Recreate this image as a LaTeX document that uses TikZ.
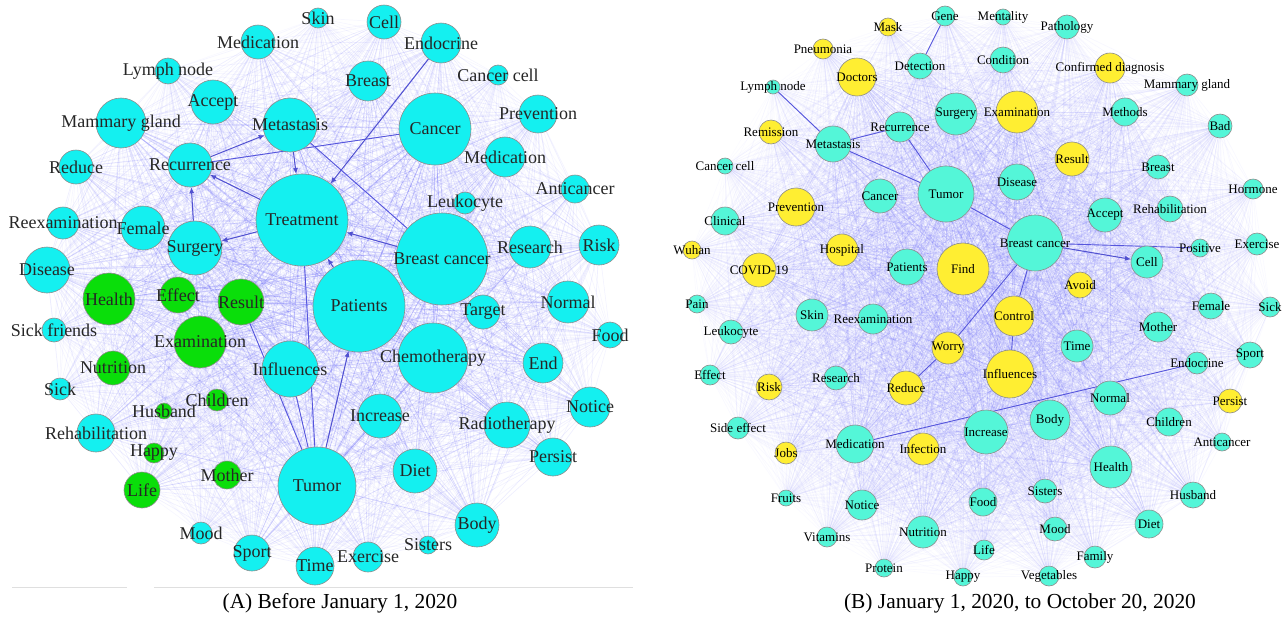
\documentclass[tikz,border=0pt]{standalone}
\usepackage{fontspec}
\setmainfont{Liberation Serif}
\usetikzlibrary{
	arrows.meta,
	backgrounds
}

\definecolor{cyanA}{RGB}{20,240,240}
\definecolor{greenA}{RGB}{10,222,10}
\definecolor{tealB}{RGB}{84,246,216}
\definecolor{yellowB}{RGB}{255,238,50}
\definecolor{linkC}{RGB}{95,95,245}
\definecolor{rimC}{RGB}{140,140,140}

% keywords: name/x/y/radius/fill/label (pixel units)
\newcommand{\vertsA}{%
	aSkin/318/18/10/cyanA/Skin,
	aCell/384/22/17/cyanA/Cell,
	aMedicT/258/42/17/cyanA/Medication,
	aEndo/441/43/20/cyanA/Endocrine,
	aLymph/168/71/13/cyanA/Lymph node,
	aCcell/498/75/10/cyanA/Cancer cell,
	aBreast/368/81/20/cyanA/Breast,
	aAccept/213/102/22/cyanA/Accept,
	aPrev/538/114/19/cyanA/Prevention,
	aMamm/121/123/25/cyanA/Mammary gland,
	aMeta/290/125/27/cyanA/Metastasis,
	aCancer/435/129/36/cyanA/Cancer,
	aMedicR/505/157/20/cyanA/Medication,
	aReduce/76/167/17/cyanA/Reduce,
	aRecur/190/165/22/cyanA/Recurrence,
	aAnti/575/189/14/cyanA/Anticancer,
	aLeuko/465/203/11/cyanA/Leukocyte,
	aTreat/302/220/46/cyanA/Treatment,
	aReexam/63/223/16/cyanA/Reexamination,
	aFemale/143/228/22/cyanA/Female,
	aRisk/599/245/20/cyanA/Risk,
	aResearch/530/247/21/cyanA/Research,
	aSurgery/195/248/27/cyanA/Surgery,
	aBC/442/259/46/cyanA/Breast cancer,
	aDisease/47/270/23/cyanA/Disease,
	aEffect/178/295/18/greenA/Effect,
	aHealth/109/299/26/greenA/Health,
	aResult/241/302/23/greenA/Result,
	aNormal/568/302/21/cyanA/Normal,
	aPatients/359/306/46/cyanA/Patients,
	aTarget/483/312/17/cyanA/Target,
	aSickF/54/330/12/cyanA/Sick friends,
	aFood/610/335/13/cyanA/Food,
	aExam/200/342/26/greenA/Examination,
	aChemo/433/358/35/cyanA/Chemotherapy,
	aEnd/543/363/20/cyanA/End,
	aNutri/113/368/17/greenA/Nutrition,
	aInfl/290/369/28/cyanA/Influences,
	aSick/60/389/11/cyanA/Sick,
	aChildren/217/400/11/greenA/Children,
	aNotice/590/407/20/cyanA/Notice,
	aHusband/164/411/8/greenA/Husband,
	aIncrease/380/416/22/cyanA/Increase,
	aRadio/507/425/23/cyanA/Radiotherapy,
	aRehab/96/433/19/cyanA/Rehabilitation,
	aHappy/154/453/10/greenA/Happy,
	aPersist/553/457/19/cyanA/Persist,
	aDiet/415/471/22/cyanA/Diet,
	aMother/227/475/14/greenA/Mother,
	aTumor/317/486/39/cyanA/Tumor,
	aLife/142/490/18/greenA/Life,
	aBody/477/525/22/cyanA/Body,
	aMood/201/533/11/cyanA/Mood,
	aSisters/428/545/9/cyanA/Sisters,
	aSport/252/553/18/cyanA/Sport,
	aExer/368/557/15/cyanA/Exercise,
	aTime/315/566/19/cyanA/Time}

\newcommand{\vertsB}{%
	bGene/945/16/10/tealB/Gene,
	bMentality/1003/17/8/tealB/Mentality,
	bMask/888/27/9/yellowB/Mask,
	bPatho/1067/27/12/tealB/Pathology,
	bPneu/823/49/10/yellowB/Pneumonia,
	bCondition/1003/60/13/tealB/Condition,
	bDetect/920/66/13/tealB/Detection,
	bConfirm/1110/68/15/yellowB/Confirmed diagnosis,
	bDoctors/857/77/19/yellowB/Doctors,
	bMamm/1187/85/11/tealB/Mammary gland,
	bLymph/773/87/7/tealB/Lymph node,
	bExam/1017/112/21/yellowB/Examination,
	bMethods/1125/112/14/tealB/Methods,
	bSurgery/956/114/21/tealB/Surgery,
	bBad/1220/126/12/tealB/Bad,
	bRecur/900/127/15/tealB/Recurrence,
	bRemis/771/132/12/yellowB/Remission,
	bMeta/833/144/18/tealB/Metastasis,
	bResult/1072/159/17/yellowB/Result,
	bCcell/725/166/8/tealB/Cancer cell,
	bBreast/1158/167/12/tealB/Breast,
	bDisease/1017/182/18/tealB/Disease,
	bHormone/1253/189/10/tealB/Hormone,
	bTumor/946/194/28/tealB/Tumor,
	bCancer/880/196/17/tealB/Cancer,
	bPrev/796/207/19/yellowB/Prevention,
	bRehab/1170/209/13/tealB/Rehabilitation,
	bAccept/1105/215/17/tealB/Accept,
	bClinical/725/221/14/tealB/Clinical,
	bBC/1035/243/28/tealB/Breast cancer,
	bExer/1257/244/11/tealB/Exercise,
	bPositive/1200/248/9/tealB/Positive,
	bWuhan/692/250/9/yellowB/Wuhan,
	bHosp/842/250/16/yellowB/Hospital,
	bCell/1147/262/16/tealB/Cell,
	bPatients/907/267/18/tealB/Patients,
	bFind/963/269/26/yellowB/Find,
	bCovid/759/270/17/yellowB/COVID-19,
	bAvoid/1080/285/13/yellowB/Avoid,
	bPain/697/304/9/tealB/Pain,
	bFemale/1211/306/13/tealB/Female,
	bSick/1270/307/10/tealB/Sick,
	bSkin/812/315/16/tealB/Skin,
	bControl/1014/316/20/yellowB/Control,
	bReexam/873/319/15/tealB/Reexamination,
	bMother/1158/327/15/tealB/Mother,
	bLeuko/731/332/12/tealB/Leukocyte,
	bTime/1077/346/16/tealB/Time,
	bWorry/948/348/16/yellowB/Worry,
	bSport/1250/355/13/tealB/Sport,
	bEndo/1197/363/11/tealB/Endocrine,
	bInfl/1010/374/24/yellowB/Influences,
	bEffect/710/375/10/tealB/Effect,
	bResearch/836/378/12/tealB/Research,
	bRisk/769/387/13/yellowB/Risk,
	bReduce/906/388/17/yellowB/Reduce,
	bNormal/1110/398/17/tealB/Normal,
	bPersist/1230/401/12/yellowB/Persist,
	bBody/1050/420/20/tealB/Body,
	bChildren/1169/422/14/tealB/Children,
	bSideE/738/428/11/tealB/Side effect,
	bIncrease/986/432/22/tealB/Increase,
	bAnti/1222/442/9/tealB/Anticancer,
	bMedic/855/444/19/tealB/Medication,
	bInfect/923/449/16/yellowB/Infection,
	bJobs/786/453/11/yellowB/Jobs,
	bHealth/1111/467/21/tealB/Health,
	bSisters/1045/491/12/tealB/Sisters,
	bHusband/1193/495/13/tealB/Husband,
	bFruits/786/498/8/tealB/Fruits,
	bFood/983/502/14/tealB/Food,
	bNotice/862/505/15/tealB/Notice,
	bDiet/1149/524/14/tealB/Diet,
	bMood/1055/529/12/tealB/Mood,
	bNutri/923/532/16/tealB/Nutrition,
	bVitamins/827/537/10/tealB/Vitamins,
	bLife/984/550/10/tealB/Life,
	bFamily/1095/557/11/tealB/Family,
	bProtein/884/568/9/tealB/Protein,
	bHappy/963/577/9/tealB/Happy,
	bVeg/1049/576/10/tealB/Vegetables}

% every pair of keywords, fainter for small ones
\newcommand{\cooccur}[3]{%
	\foreach \a/\xa/\ya/\ra/\ca/\ta [count=\i] in #1 {
		\foreach \b/\xb/\yb/\rb/\cb/\tb [count=\j] in #1 {
			\ifnum\j>\i
				\pgfmathsetmacro\op{min(0.4,#3+\ra*\rb/#2)}
				\draw[link, draw opacity=\op] (\a) -- (\b);
			\fi
		}
	}}

\begin{document}
\begin{tikzpicture}[
		x=0.5pt, y=-0.5pt,
		vtx/.style={
			circle,
			draw=rimC,
			line width=0.3pt,
			inner sep=0pt
		},
		lblA/.style={inner sep=0pt, font=\fontsize{9}{10}\selectfont, text=black!85},
		lblB/.style={inner sep=0pt, font=\fontsize{6.5}{7.5}\selectfont, text=black},
		caption/.style={inner sep=0pt, font=\fontsize{10.7}{12}\selectfont},
		link/.style={draw=linkC, line width=0.35pt},
		arr/.style={-{Latex[length=3pt,width=2.6pt]}, draw=linkC!85!black, line width=0.5pt},
		bold/.style={draw=linkC!90!black, line width=0.45pt}
	]
	\useasboundingbox (0,0) rectangle (1284,616);

	% (A) before 2020
	\foreach \n/\x/\y/\r/\c/\t in \vertsA {
		\node[vtx, fill=\c, minimum size=\r pt] (\n) at (\x,\y) {};
		\node[lblA] at (\n) {\t};
	}
	% (B) 2020
	\foreach \n/\x/\y/\r/\c/\t in \vertsB {
		\node[vtx, fill=\c, minimum size=\r pt] (\n) at (\x,\y) {};
		\node[lblB] at (\n) {\t};
	}

	\begin{pgfonlayer}{background}
		\cooccur{\vertsA}{4500}{0.012}
		\cooccur{\vertsB}{3200}{0.006}

		\draw[arr] (aEndo) -- (aTreat);
		\draw[arr] (aBC) -- (aTreat);
		\draw[arr] (aTumor) -- (aPatients);
		\draw[arr] (aPatients) -- (aTreat);
		\draw[arr] (aMeta) -- (aTreat);
		\draw[arr] (aTreat) -- (aRecur);
		\draw[arr] (aTreat) -- (aSurgery);
		\draw[arr] (aRecur) -- (aMeta);
		\draw[arr] (aSurgery) -- (aRecur);
		\draw[bold] (aTumor) -- (aTreat);
		\draw[bold] (aTumor) -- (aInfl);
		\draw[bold] (aRecur) -- (aCancer);
		\draw[bold] (aResult) -- (aTumor);
		\draw[bold] (aBC) -- (aMeta);

		\draw[bold] (bGene) -- (bDetect);
		\draw[bold] (bLymph) -- (bMeta);
		\draw[bold] (bMeta) -- (bRecur);
		\draw[bold] (bMeta) -- (bTumor);
		\draw[bold] (bRecur) -- (bTumor);
		\draw[bold] (bTumor) -- (bBC);
		\draw[arr] (bBC) -- (bCell);
		\draw[bold] (bBC) -- (bPositive);
		\draw[bold] (bBC) -- (bControl);
		\draw[bold] (bBC) -- (bWorry);
		\draw[bold] (bControl) -- (bInfl);
		\draw[bold] (bReduce) -- (bWorry);
		\draw[bold] (bMedic) -- (bEndo);
	\end{pgfonlayer}

	\draw[gray!25, line width=0.4pt] (12,587) -- (127,587) (154,587) -- (633,587);
	\node[caption] (capA) at (340,603) {(A) Before January 1, 2020};
	\node[caption] (capB) at (1020,603) {(B) January 1, 2020, to October 20, 2020};
\end{tikzpicture}
\end{document}
